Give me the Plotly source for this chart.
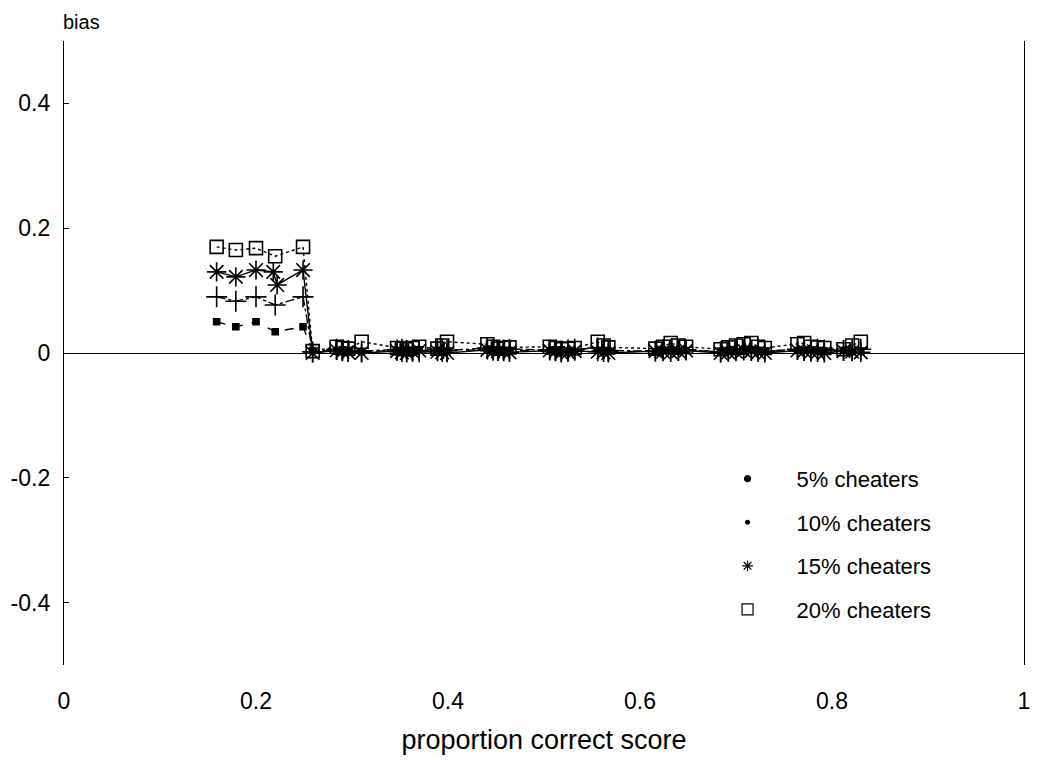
import plotly.graph_objects as go

# ---- data ----
score_low = [0.159, 0.179, 0.200, 0.220, 0.249]
score_low_15 = [0.159, 0.179, 0.200, 0.218, 0.222, 0.249]
score_high = [0.259, 0.284, 0.290, 0.296, 0.310, 0.347, 0.352, 0.357, 0.363,
              0.370, 0.389, 0.394, 0.399, 0.441, 0.447, 0.452, 0.458, 0.464,
              0.506, 0.512, 0.518, 0.525, 0.532, 0.556, 0.562, 0.567, 0.616,
              0.624, 0.632, 0.640, 0.648, 0.684, 0.692, 0.700, 0.708, 0.716,
              0.723, 0.730, 0.764, 0.771, 0.778, 0.785, 0.792, 0.812, 0.821,
              0.830]

bias5_low = [0.050, 0.042, 0.050, 0.034, 0.042]
bias10_low = [0.090, 0.083, 0.090, 0.077, 0.090]
bias15_low = [0.130, 0.122, 0.133, 0.130, 0.109, 0.133]
bias20_low = [0.170, 0.165, 0.168, 0.155, 0.170]

bias5_high = [0.004, 0.003, 0.005, 0.004, 0.002, 0.004, 0.003, 0.005, 0.004,
              0.005, 0.004, 0.003, 0.003, 0.006, 0.005, 0.005, 0.004, 0.004,
              0.003, 0.005, 0.005, 0.003, 0.002, 0.004, 0.004, 0.003, 0.002,
              0.004, 0.005, 0.003, 0.004, 0.003, 0.004, 0.002, 0.003, 0.005,
              0.004, 0.003, 0.004, 0.004, 0.005, 0.003, 0.003, 0.004, 0.002,
              0.003]
bias10_high = [0.002, 0.006, 0.005, 0.004, 0.003, 0.005, 0.006, 0.004, 0.003,
               0.002, 0.006, 0.005, 0.004, 0.008, 0.006, 0.004, 0.005, 0.006,
               0.005, 0.004, 0.003, 0.005, 0.006, 0.008, 0.006, 0.004, 0.003,
               0.005, 0.006, 0.004, 0.005, 0.002, 0.004, 0.006, 0.005, 0.004,
               0.006, 0.003, 0.006, 0.004, 0.003, 0.006, 0.005, 0.004, 0.005,
               0.006]
bias15_high = [0.000, 0.004, 0.002, 0.001, 0.000, 0.003, 0.001, 0.000, 0.002,
               0.004, 0.002, 0.001, 0.000, 0.005, 0.003, 0.003, 0.002, 0.001,
               0.004, 0.002, 0.000, 0.001, 0.003, 0.002, 0.001, 0.000, 0.003,
               0.002, 0.001, 0.003, 0.004, 0.000, 0.001, 0.002, 0.004, 0.003,
               0.001, 0.000, 0.004, 0.003, 0.002, 0.001, 0.000, 0.003, 0.002,
               0.001]
bias20_high = [0.003, 0.010, 0.008, 0.007, 0.018, 0.008, 0.007, 0.006, 0.008,
               0.010, 0.007, 0.012, 0.018, 0.014, 0.010, 0.007, 0.008, 0.009,
               0.010, 0.008, 0.006, 0.007, 0.008, 0.018, 0.012, 0.009, 0.007,
               0.010, 0.016, 0.012, 0.010, 0.006, 0.009, 0.012, 0.014, 0.016,
               0.010, 0.008, 0.014, 0.016, 0.010, 0.009, 0.008, 0.006, 0.012,
               0.018]

series_names = ["5% cheaters", "10% cheaters", "15% cheaters", "20% cheaters"]
x_ticks = [0, 0.2, 0.4, 0.6, 0.8, 1]
x_tick_labels = ["0", "0.2", "0.4", "0.6", "0.8", "1"]
y_ticks = [-0.4, -0.2, 0, 0.2, 0.4]
y_tick_labels = ["-0.4", "-0.2", "0", "0.2", "0.4"]

# ---- styles ----
styles = [
    dict(symbol="square", size=6, dash="dash"),
    dict(symbol="cross-thin-open", size=15, dash="dashdot"),
    dict(symbol="asterisk-open", size=16, dash="solid"),
    dict(symbol="square-open", size=13, dash="dot"),
]
xs = [score_low + score_high, score_low + score_high,
      score_low_15 + score_high, score_low + score_high]
ys = [bias5_low + bias5_high, bias10_low + bias10_high,
      bias15_low + bias15_high, bias20_low + bias20_high]

fig = go.Figure()
for name, st, x, y in zip(series_names, styles, xs, ys):
    fig.add_trace(go.Scatter(
        x=x, y=y, mode="lines+markers", showlegend=False,
        line=dict(color="black", width=1.4, dash=st["dash"]),
        marker=dict(symbol=st["symbol"], size=st["size"], color="black",
                    line=dict(color="black", width=1.6)),
        name=name))

legend_sizes = [6, 4, 9, 11]
legend_symbols = ["circle", "circle", "asterisk-open", "square-open"]
for i, name in enumerate(series_names):
    fig.add_trace(go.Scatter(
        x=[None], y=[None], mode="markers", name=name,
        legendgroup=f"g{i}",
        marker=dict(symbol=legend_symbols[i], size=legend_sizes[i],
                    color="black", line=dict(color="black", width=1.2))))

font_family = "Liberation Sans, Arial, sans-serif"
fig.update_layout(
    width=1043, height=760,
    margin=dict(l=56, r=27, t=33, b=103, autoexpand=False),
    paper_bgcolor="white", plot_bgcolor="white",
    font=dict(family=font_family, color="black", size=20),
    showlegend=True,
    legend=dict(x=0.661, y=0.332, xanchor="left", yanchor="top",
                bgcolor="rgba(0,0,0,0)", font=dict(size=22),
                tracegroupgap=12, itemwidth=88,
                traceorder="grouped"),
    xaxis=dict(range=[0, 1], tickvals=x_ticks, ticktext=x_tick_labels,
               showgrid=False, zeroline=False, showline=False, ticks="",
               tickfont=dict(size=23), ticklabelstandoff=20,
               automargin=False,
               title=dict(text="proportion correct score", font=dict(size=27),
                          standoff=17)),
    yaxis=dict(range=[-0.5, 0.5], tickvals=y_ticks, ticktext=y_tick_labels,
               showgrid=False, zeroline=True, zerolinecolor="black",
               zerolinewidth=1.2, showline=True, linecolor="black",
               linewidth=1.3, mirror=True, ticks="inside", ticklen=5,
               tickcolor="black", tickfont=dict(size=23),
               ticklabelstandoff=8, automargin=False),
    annotations=[dict(text="bias", xref="paper", yref="paper", x=0, y=1,
                      xanchor="left", yanchor="bottom", yshift=6,
                      xshift=-3, showarrow=False, font=dict(size=20))],
)

fig.write_html("out.html")
